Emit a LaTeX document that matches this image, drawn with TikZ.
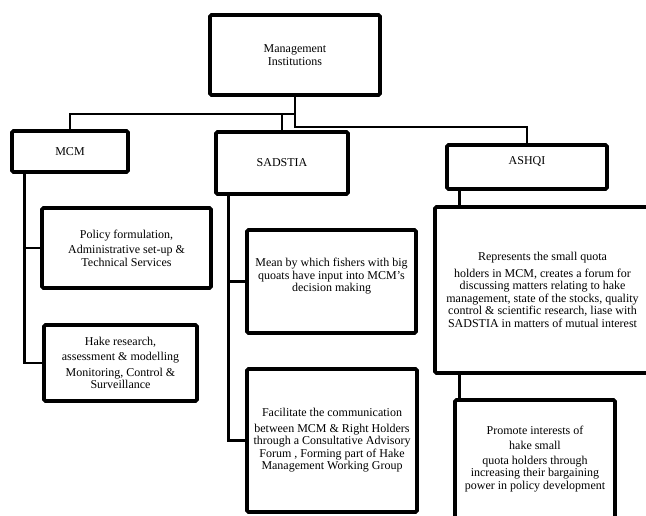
\documentclass[tikz,border=0pt]{standalone}
\usepackage{fontspec}
\setmainfont{Liberation Serif}

\begin{document}
\begin{tikzpicture}[x=1pt,y=-1pt,
    box/.style={draw,line width=3.6pt,rounded corners=1.5pt,align=center,inner sep=1pt,font=\fontsize{12}{12.5}\selectfont},
    link/.style={line width=2.6pt}]
    \path[use as bounding box,clip] (0,0) rectangle (646,515);

    \node[box,minimum width=170pt,minimum height=80pt] (inst) at (295,55) {Management\\Institutions};

    \node[box,minimum width=116pt,minimum height=41pt] (mcm) at (70,151.5) {MCM};
    \node[box,minimum width=132pt,minimum height=62pt] (sadstia) at (282,163) {SADSTIA};
    \node[box,minimum width=160pt,minimum height=44pt] (ashqi) at (527,167) {ASHQI\\\mbox{}};

    \node[box,minimum width=169pt,minimum height=80pt] (policy) at (126.5,248) {Policy  formulation,\\[3pt]Administrative set-up \&\\Technical Services};
    \node[box,minimum width=153pt,minimum height=76pt] (hake) at (120.5,363) {Hake research,\\[3pt]assessment \& modelling\\[3pt]Monitoring, Control \&\\Surveillance};

    \node[box,minimum width=169pt,minimum height=103pt] (mean) at (331.5,281.5) {Mean by which fishers  with big\\quoats  have input into MCM's\\decision making\\\mbox{}};
    \node[box,minimum width=170pt,minimum height=143pt] (facil) at (332,440.5) {Facilitate the communication\\[3pt]between MCM \& Right Holders\\through a Consultative  Advisory\\Forum , Forming part of Hake\\Management Working Group};

    \node[box,minimum width=215pt,minimum height=166pt] (repr) at (542.5,290) {Represents the small quota\\[4pt]holders in MCM, creates a forum for\\discussing matters relating to hake\\management, state of the stocks, quality\\control \& scientific research, liase with\\SADSTIA in matters of mutual interest};
    \node[box,minimum width=160pt,minimum height=128pt] (promote) at (535,464) {Promote interests of\\[3pt]hake small\\[2pt]quota holders through\\increasing their bargaining\\power in policy development\\\mbox{}};

    % top level
    \coordinate (top1) at (295,114);
    \coordinate (top2) at (295,127);
    \draw[link] (inst.south) -- (top2) -| (ashqi.north);
    \draw[link] (top1) -| (mcm.north);
    \draw[link] (sadstia.north |- top1) -- (sadstia.north);

    % trunks
    \coordinate (mcmtrunk) at ([xshift=14pt]mcm.south west);
    \coordinate (sadtrunk) at ([xshift=14pt]sadstia.south west);
    \coordinate (ashtrunk) at ([xshift=14pt]ashqi.south west);
    \foreach \from/\to in {mcmtrunk/policy,mcmtrunk/hake,sadtrunk/mean,sadtrunk/facil}
        \draw[link] (\from) |- (\to.west);
    \draw[link] (ashtrunk) -- (ashtrunk |- repr.north);
    \draw[link] (repr.south -| ashtrunk) -- (promote.north -| ashtrunk);
\end{tikzpicture}
\end{document}
